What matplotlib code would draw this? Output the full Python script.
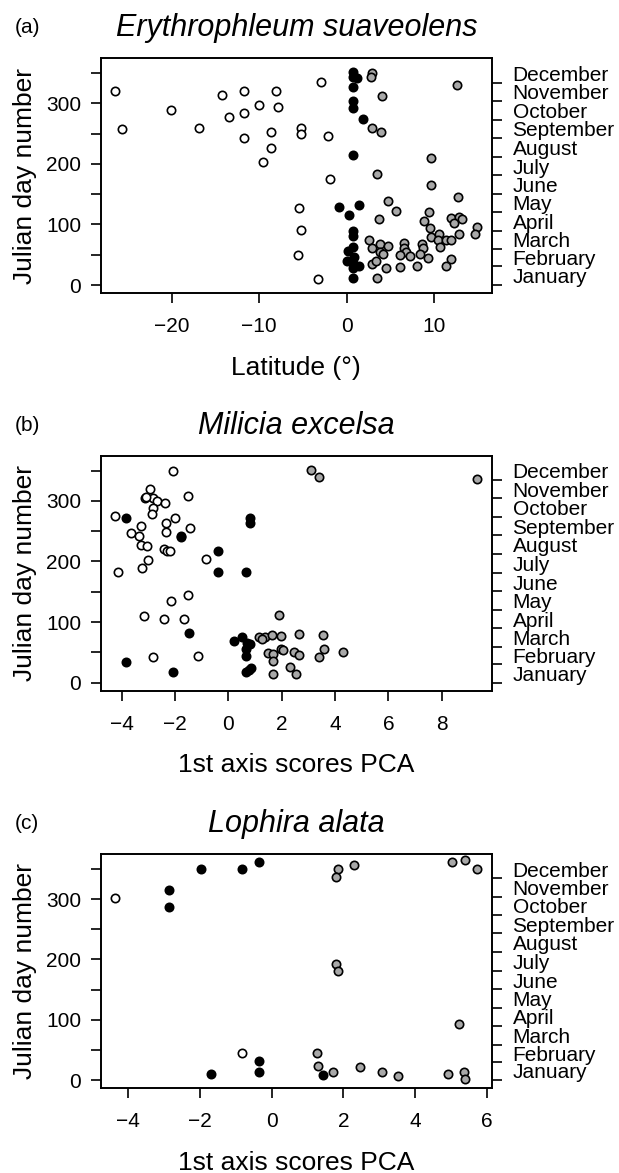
import matplotlib
matplotlib.use("Agg")
import matplotlib.pyplot as plt

plt.rcParams['font.family'] = ['Liberation Sans', 'DejaVu Sans']

# ---------------- data ----------------
months = ["January", "February", "March", "April", "May", "June", "July",
          "August", "September", "October", "November", "December"]
month_starts = [0, 31, 59, 90, 120, 151, 181, 212, 243, 273, 304, 334]
month_mids = [15.5, 45, 74.5, 105, 135.5, 166, 196.5, 227.5, 258, 288.5, 319, 349.5]

# (a) Erythrophleum suaveolens, latitude
a_open_x = [-26.5, -25.7, -20.1, -16.9, -14.3, -11.7, -13.4, -11.7, -11.7, -10.0, -8.1, -7.8,
            -8.6, -8.6, -9.6, -5.2, -5.2, -2.9, -2.1, -1.9, -5.4, -5.2, -5.6, -3.3]
a_open_y = [321, 258, 289, 259, 314, 320, 277, 284, 243, 297, 320, 294,
            253, 226, 204, 259, 250, 336, 246, 175, 128, 91, 49, 10]
a_black_x = [0.76, 0.76, 1.14, 0.76, 0.76, 0.76, 1.83, 0.76, -0.84, 1.45, 0.23, 0.76,
             0.76, 0.76, 0.11, 0.88, 0.0, 0.76, 1.45, 0.76, 0.76]
a_black_y = [352, 344, 342, 327, 304, 292, 275, 214, 129, 132, 116, 90,
             81, 63, 57, 47, 39, 36, 32, 28, 12]
a_gray_x = [2.9, 2.78, 4.1, 2.9, 3.9, 12.6, 9.6, 3.47, 9.6, 12.7, 4.7, 5.6, 3.7, 9.4, 8.9,
            12.0, 12.9, 13.2, 12.3, 14.9, 14.7, 12.9, 9.5, 9.7, 10.6, 10.4, 11.4, 12.0, 10.7,
            2.55, 2.9, 3.8, 4.76, 6.6, 6.6, 8.6, 8.7, 3.8, 4.2, 6.8, 6.1, 7.2, 8.4, 9.3, 11.9,
            2.86, 3.35, 6.1, 8.0, 11.4, 4.46, 3.47]
a_gray_y = [350, 343, 313, 259, 252, 330, 210, 184, 166, 146, 139, 122, 109, 120, 106,
            110, 113, 109, 103, 96, 84, 84, 94, 80, 84, 74, 74, 74, 62,
            74, 61, 67, 65, 69, 61, 68, 61, 55, 51, 55, 50, 48, 51, 44, 43,
            35, 39, 30, 32, 32, 28, 12]

# (b) Milicia excelsa, PCA axis 1
b_open_x = [-2.09, -2.94, -3.125, -2.84, -2.66, -2.36, -1.51, -2.84, -2.875, -4.25, -1.99,
            -2.34, -2.34, -1.44, -3.275, -3.64, -3.36, -3.275, -3.04, -2.41, -2.29, -2.19,
            -0.85, -3.03, -3.25, -4.15, -1.51, -2.14, -3.175, -2.425, -1.65, -2.84, -1.125,
            -3.09]
b_open_y = [349, 319, 304, 304, 300, 296, 308, 288, 279, 275, 272,
            263, 249, 255, 258, 247, 242, 227, 226, 220, 217, 217,
            204, 202, 189, 182, 145, 134, 110, 105, 105, 42, 44,
            306]
b_black_x = [-3.84, -1.775, -1.76, -0.375, -0.375, 0.675, 0.81, 0.81, -1.49, -3.84, -2.075,
             0.21, 0.5, 0.69, 0.825, 0.675, 0.675, 0.84, 0.76, 0.675]
b_black_y = [271, 242, 240, 217, 182, 182, 272, 263, 82, 34, 18,
             68, 75, 65, 64, 55, 44, 25, 21, 18]
b_gray_x = [3.1, 3.39, 9.31, 1.91, 1.15, 1.375, 1.65, 1.96, 2.65, 3.54, 1.26, 1.96, 2.06,
            3.6, 4.31, 1.475, 1.69, 2.46, 2.65, 3.39, 1.69, 2.3, 1.69, 2.55]
b_gray_y = [351, 340, 336, 111, 75, 75, 79, 77, 80, 78, 72, 56, 54,
            56, 51, 49, 48, 51, 46, 43, 35, 26, 14, 14]

# (c) Lophira alata, PCA axis 1
c_open_x = [-4.37, -0.82]
c_open_y = [302, 45]
c_black_x = [-2.865, -2.865, -1.96, -0.84, -0.34, -1.69, -0.34, -0.34, 1.44]
c_black_y = [315, 287, 350, 349, 361, 11, 32, 14, 8]
c_gray_x = [1.84, 1.81, 2.31, 5.02, 5.39, 5.72, 1.81, 1.84, 5.22, 1.27, 1.29, 1.72, 2.47,
            3.08, 3.53, 4.91, 5.37, 5.39]
c_gray_y = [350, 336, 357, 361, 364, 349, 192, 181, 93, 46, 24, 14, 22,
            14, 7, 10, 14, 3]

panels = [
    dict(tag="(a)", title="Erythrophleum suaveolens", xlabel="Latitude (°)",
         xlim=(-28.1, 16.6), xticks=[-20, -10, 0, 10],
         open=(a_open_x, a_open_y), gray=(a_gray_x, a_gray_y), black=(a_black_x, a_black_y),
         top=58.3, bottom=293.0),
    dict(tag="(b)", title="Milicia excelsa", xlabel="1st axis scores PCA",
         xlim=(-4.775, 9.875), xticks=[-4, -2, 0, 2, 4, 6, 8],
         open=(b_open_x, b_open_y), gray=(b_gray_x, b_gray_y), black=(b_black_x, b_black_y),
         top=455.7, bottom=690.7),
    dict(tag="(c)", title="Lophira alata", xlabel="1st axis scores PCA",
         xlim=(-4.76, 6.14), xticks=[-4, -2, 0, 2, 4, 6],
         open=(c_open_x, c_open_y), gray=(c_gray_x, c_gray_y), black=(c_black_x, c_black_y),
         top=854.0, bottom=1088.3),
]

W, H = 619, 1173
DPI = 100
fig = plt.figure(figsize=(W / DPI, H / DPI), dpi=DPI)

left_px, right_px = 101.0, 491.7
ylim = (-13.2, 374.5)
yticks = [0, 50, 100, 150, 200, 250, 300, 350]
ylabels = ["0", "", "100", "", "200", "", "300", ""]

tick_fs = 15
lab_fs = 19
title_fs = 22
lw = 1.2
ms = 6.0
mew = 1.2

for p in panels:
    ax = fig.add_axes([left_px / W, 1 - p["bottom"] / H,
                       (right_px - left_px) / W, (p["bottom"] - p["top"]) / H])
    ox, oy = p["open"]
    gx, gy = p["gray"]
    bx, by = p["black"]
    ax.plot(ox, oy, 'o', ms=ms, mfc='white', mec='black', mew=mew, ls='none')
    ax.plot(gx, gy, 'o', ms=ms, mfc='#a8a8a8', mec='black', mew=mew, ls='none')
    ax.plot(bx, by, 'o', ms=ms, mfc='black', mec='black', mew=mew, ls='none')
    ax.set_xlim(*p["xlim"])
    ax.set_ylim(*ylim)
    ax.set_xticks(p["xticks"])
    ax.set_yticks(yticks)
    ax.set_yticklabels(ylabels)
    for s in ax.spines.values():
        s.set_linewidth(lw)
    ax.tick_params(axis='x', direction='out', length=7.2, width=lw, labelsize=tick_fs, pad=10)
    ax.tick_params(axis='y', direction='out', length=7.2, width=lw, labelsize=tick_fs, pad=7)

    ax2 = ax.twinx()
    ax2.set_ylim(*ylim)
    ax2.set_yticks(month_starts)
    ax2.set_yticklabels([""] * len(month_starts))
    ax2.set_yticks(month_mids, minor=True)
    ax2.set_yticklabels(months, minor=True)
    ax2.tick_params(axis='y', which='major', direction='out', length=7.2, width=lw)
    ax2.tick_params(axis='y', which='minor', length=0, labelsize=tick_fs, pad=15)
    for s in ax2.spines.values():
        s.set_linewidth(lw)

    cx = (left_px + right_px) / 2 / W
    fig.text(cx, 1 - (p["top"] - 22) / H, p["title"], fontsize=title_fs, style='italic',
             ha='center', va='baseline')
    fig.text(15 / W, 1 - (p["top"] - 25) / H, p["tag"], fontsize=tick_fs,
             ha='left', va='baseline')
    fig.text(cx, 1 - (p["bottom"] + 81.5) / H, p["xlabel"], fontsize=lab_fs,
             ha='center', va='baseline')
    fig.text(25 / W, 1 - (p["top"] + p["bottom"]) / 2 / H, "Julian day number",
             fontsize=lab_fs, rotation=90, ha='center', va='center')

fig.savefig("out.png", dpi=DPI)
